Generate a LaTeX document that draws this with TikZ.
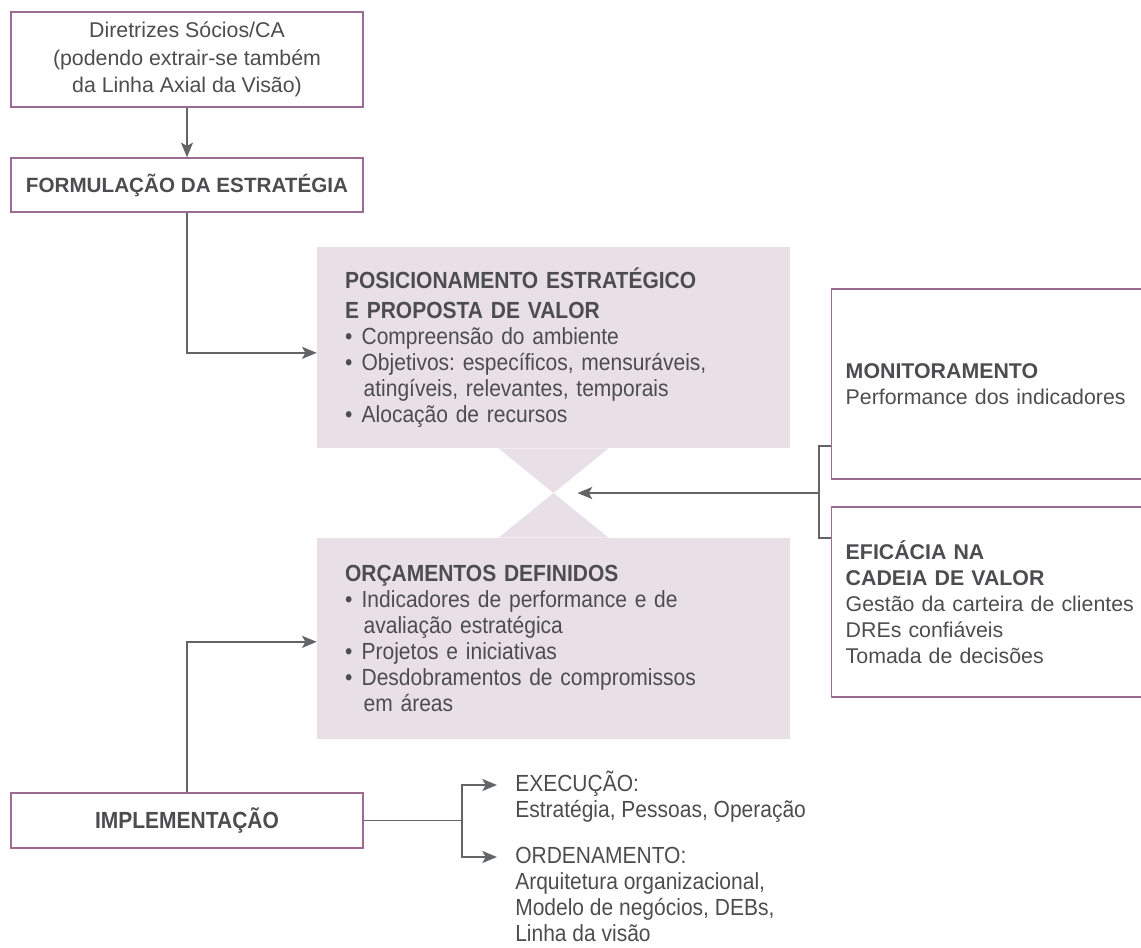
\documentclass[tikz,border=0pt]{standalone}
\usepackage{fontspec}
\setmainfont{Liberation Sans}
\newfontfamily\condfont[FakeStretch=0.9]{Liberation Sans}
\usetikzlibrary{arrows.meta}
\definecolor{framemauve}{HTML}{9C6A93}
\definecolor{panelpink}{HTML}{E9DFE7}
\definecolor{textgray}{HTML}{4D4D4F}
\definecolor{linkgray}{HTML}{636466}
\newcommand{\pbul}{\makebox[12.5pt][l]{\textbullet}}
\newcommand{\pind}{\hspace*{14pt}}
\frenchspacing

\begin{document}
\begin{tikzpicture}[x=0.75pt, y=-0.75pt]
\tikzset{outbox/.style={draw=framemauve, line width=1.1pt, fill=white, text=textgray, align=center, minimum width=264pt, font=\fontsize{16}{20.5}\selectfont},
  panel/.style={fill=panelpink, text=textgray, minimum height=150.75pt, text width=312.75pt, inner xsep=21pt, inner ysep=0pt, align=left, font=\condfont\fontsize{17.5}{19.5}\selectfont},
  sidebox/.style={draw=framemauve, line width=1.1pt, text=textgray, minimum height=142.5pt, text width=300pt, inner xsep=10.5pt, align=left, anchor=west, font=\fontsize{16}{19.5}\selectfont},
  cond/.style={text=textgray, align=left, inner sep=0pt, anchor=base west, font=\condfont\fontsize{17.5}{19.5}\selectfont},
  link/.style={draw=linkgray, line width=1.3pt},
  arr/.style={link, -{Stealth[length=11pt, width=9pt, inset=2.5pt]}}}
\useasboundingbox (0,0) rectangle (1141,947);
\clip (0,0) rectangle (1141,947);
\node[outbox, minimum height=71.25pt] (guide) at (187,59.5) {Diretrizes Sócios/CA\\(podendo extrair-se também\\da Linha Axial da Visão)};
\node[outbox, minimum height=40.5pt, font=\bfseries\fontsize{15.5}{19}\selectfont] (formul) at (187,185) {FORMULAÇÃO DA ESTRATÉGIA};
\node[outbox, minimum height=41.25pt, font=\condfont\bfseries\fontsize{17.5}{19}\selectfont] (implem) at (187,820.5) {IMPLEMENTAÇÃO};
\node[panel] (posic) at (553.5,347.5) {\textbf{POSICIONAMENTO ESTRATÉGICO}\\[3pt]\textbf{E PROPOSTA DE VALOR}\\\pbul Compreensão do ambiente\\\pbul Objetivos: específicos, mensuráveis,\\\pind atingíveis, relevantes, temporais\\\pbul Alocação de recursos};
\node[panel] (orcam) at (553.5,638.5) {\textbf{ORÇAMENTOS DEFINIDOS}\\\pbul Indicadores de performance e de\\\pind avaliação estratégica\\\pbul Projetos e iniciativas\\\pbul Desdobramentos de compromissos\\\pind em áreas};
\coordinate (meet) at (553.5,493);
\fill[panelpink] ([xshift=-41.25pt]posic.south) -- ([xshift=41.25pt]posic.south) -- (meet) -- cycle;
\fill[panelpink] ([xshift=-41.25pt]orcam.north) -- ([xshift=41.25pt]orcam.north) -- (meet) -- cycle;
\node[sidebox] (monit) at (831,384) {\textbf{MONITORAMENTO}\\Performance dos indicadores};
\node[sidebox] (efica) at (831,602) {\textbf{EFICÁCIA NA}\\\textbf{CADEIA DE VALOR}\\Gestão da carteira de clientes\\DREs confiáveis\\Tomada de decisões};
\node[cond] (exec) at (515,817) {EXECUÇÃO:\\Estratégia, Pessoas, Operação};
\node[cond] (orden) at (515,941) {ORDENAMENTO:\\Arquitetura organizacional,\\Modelo de negócios, DEBs,\\Linha da visão};
\draw[arr] (guide) -- (formul);
\draw[arr] (formul.south) |- ([yshift=-4pt]posic.west);
\draw[arr] (implem.north) |- ([yshift=-2.5pt]orcam.west);
\coordinate (fork) at (819,493);
\draw[link] ([yshift=-46.5pt]monit.west) -| (fork) |- ([yshift=48pt]efica.west);
\draw[arr] (fork) -- ([xshift=18pt]meet);
\coordinate (split) at (462,820.5);
\draw[link] (implem) -- (split);
\draw[arr] (split) |- ([xshift=-13.5pt,yshift=24pt]exec.base west);
\draw[arr] (split) |- ([xshift=-13.5pt,yshift=63pt]orden.base west);
\end{tikzpicture}
\end{document}
